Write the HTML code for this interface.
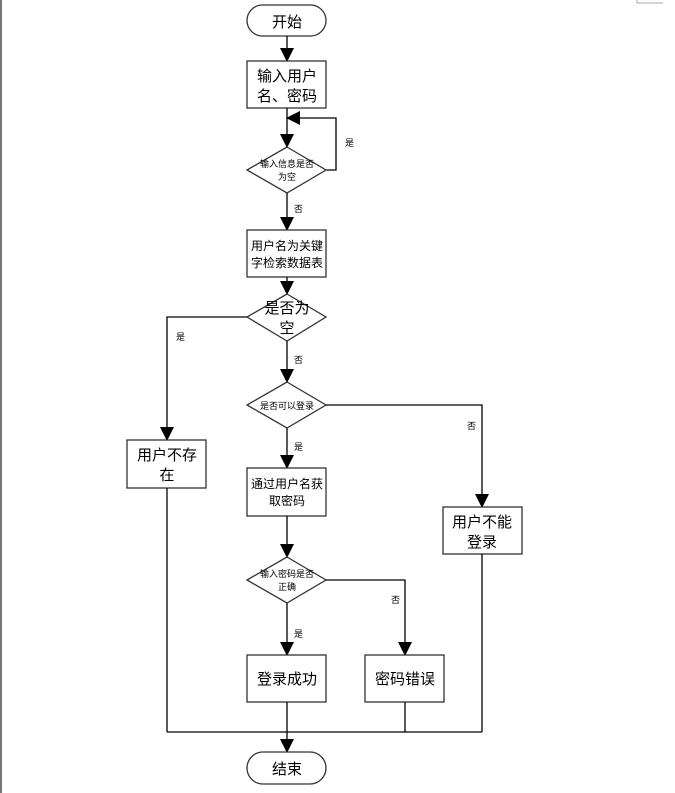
<!DOCTYPE html>
<html><head><meta charset="utf-8"><style>
html,body{margin:0;padding:0;background:#fff;}
svg{display:block;}
text{font-family:"Liberation Sans","Noto Sans CJK SC",sans-serif;fill:#000;}
</style></head><body>
<svg width="675" height="793" viewBox="0 0 675 793" xmlns="http://www.w3.org/2000/svg">
<defs>
<marker id="a" markerWidth="10" markerHeight="10" refX="9" refY="5" orient="auto" markerUnits="userSpaceOnUse">
<path d="M0,0 L10,5 L0,10 z" fill="#000"/>
</marker>
<marker id="b" markerWidth="14" markerHeight="14" refX="13" refY="7" orient="auto" markerUnits="userSpaceOnUse">
<path d="M0,0 L14,7 L0,14 z" fill="#000"/>
</marker>
</defs>
<line x1="1" y1="0" x2="1" y2="793" stroke="#777" stroke-width="2"/>
<path d="M637,0 V3 H663" fill="none" stroke="#aaa" stroke-width="1"/>
<g stroke="#000" stroke-width="1.3" fill="none">
<!-- start -->
<rect x="247" y="5" width="79" height="31" rx="15.5" fill="#fff" stroke="#333"/>
<line x1="287" y1="36" x2="287" y2="61" marker-end="url(#b)"/>
<rect x="247" y="61" width="79" height="47" fill="#fff" stroke="#333"/>
<line x1="287" y1="108" x2="287" y2="147" marker-end="url(#b)"/>
<path d="M326,170 H336 V118 H287" marker-end="url(#b)"/>
<polygon points="287,147 326,170 287,193 247,170" fill="#fff" stroke="#333"/>
<line x1="287" y1="193" x2="287" y2="230" marker-end="url(#b)"/>
<rect x="247" y="230" width="79" height="47" fill="#fff" stroke="#333"/>
<line x1="287" y1="277" x2="287" y2="294" marker-end="url(#b)"/>
<polygon points="287,294 326,317 287,341 247,317" fill="#fff" stroke="#333"/>
<path d="M247,317 H167 V440" marker-end="url(#b)"/>
<rect x="127" y="440" width="79" height="48" fill="#fff" stroke="#333"/>
<line x1="287" y1="341" x2="287" y2="382" marker-end="url(#b)"/>
<polygon points="287,382 326,405 287,428 247,405" fill="#fff" stroke="#333"/>
<path d="M326,405 H482 V507" marker-end="url(#b)"/>
<rect x="443" y="507" width="79" height="47" fill="#fff" stroke="#333"/>
<line x1="287" y1="428" x2="287" y2="468" marker-end="url(#b)"/>
<rect x="247" y="468" width="79" height="48" fill="#fff" stroke="#333"/>
<line x1="287" y1="516" x2="287" y2="557" marker-end="url(#b)"/>
<polygon points="287,557 326,580 287,603 247,580" fill="#fff" stroke="#333"/>
<path d="M326,580 H405 V655" marker-end="url(#b)"/>
<line x1="287" y1="603" x2="287" y2="655" marker-end="url(#b)"/>
<rect x="247" y="655" width="79" height="47" fill="#fff" stroke="#333"/>
<rect x="365" y="655" width="79" height="47" fill="#fff" stroke="#333"/>
<line x1="167" y1="488" x2="167" y2="732"/>
<line x1="482" y1="554" x2="482" y2="732"/>
<line x1="405" y1="702" x2="405" y2="732"/>
<line x1="167" y1="732" x2="482" y2="732"/>
<line x1="287" y1="702" x2="287" y2="752" marker-end="url(#b)"/>
<rect x="247" y="752" width="79" height="32" rx="16" fill="#fff" stroke="#333"/>
</g>
<g text-anchor="middle">
<text x="287" y="27" font-size="15">开始</text>
<text x="287" y="81" font-size="15">输入用户</text>
<text x="287" y="101" font-size="15">名、密码</text>
<text x="287" y="167" font-size="9">输入信息是否</text>
<text x="287" y="180" font-size="9">为空</text>
<text x="287" y="250" font-size="12">用户名为关键</text>
<text x="287" y="267" font-size="12">字检索数据表</text>
<text x="287" y="313" font-size="15">是否为</text>
<text x="287" y="333" font-size="15">空</text>
<text x="287" y="409" font-size="9">是否可以登录</text>
<text x="167" y="460" font-size="15">用户不存</text>
<text x="167" y="480" font-size="15">在</text>
<text x="482" y="527" font-size="15">用户不能</text>
<text x="482" y="547" font-size="15">登录</text>
<text x="287" y="488" font-size="12">通过用户名获</text>
<text x="287" y="505" font-size="12">取密码</text>
<text x="287" y="577" font-size="9">输入密码是否</text>
<text x="287" y="590" font-size="9">正确</text>
<text x="287" y="684" font-size="15">登录成功</text>
<text x="405" y="684" font-size="15">密码错误</text>
<text x="287" y="774" font-size="15">结束</text>
</g>
<g font-size="9">
<text x="345" y="146">是</text>
<text x="294" y="212">否</text>
<text x="176" y="340">是</text>
<text x="294" y="363">否</text>
<text x="467" y="429">否</text>
<text x="294" y="450">是</text>
<text x="391" y="603">否</text>
<text x="294" y="637">是</text>
</g>
</svg>
</body></html>
